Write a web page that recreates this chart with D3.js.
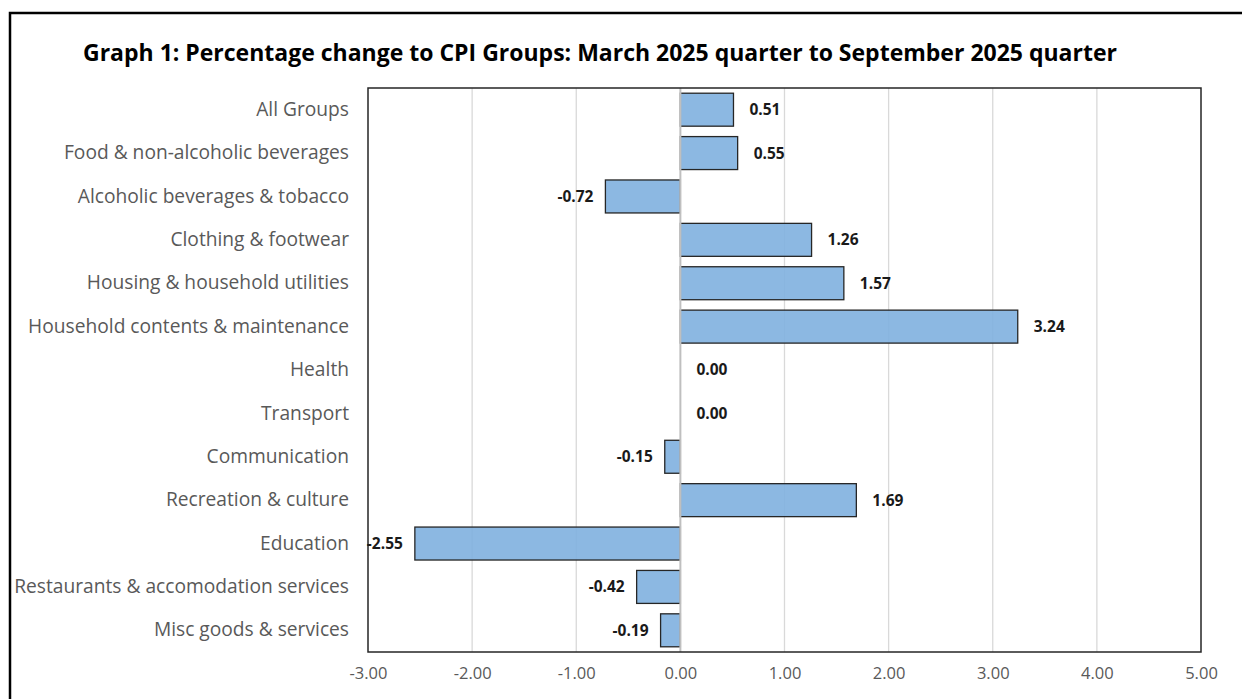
<!DOCTYPE html>
<html>
<head>
<meta charset="utf-8">
<script src="https://cdn.jsdelivr.net/npm/d3@7"></script>
<style>
  body { margin: 0; background: #fff; }
  svg text { font-family: "Open Sans", "Noto Sans", sans-serif; }
</style>
</head>
<body>
<div id="chart"></div>
<script>

// CPI groups, top to bottom
var categories = [
    "All Groups",
    "Food & non-alcoholic beverages",
    "Alcoholic beverages & tobacco",
    "Clothing & footwear",
    "Housing & household utilities",
    "Household contents & maintenance",
    "Health",
    "Transport",
    "Communication",
    "Recreation & culture",
    "Education",
    "Restaurants & accomodation services",
    "Misc goods & services"
];

// percentage change, March 2025 qtr to September 2025 qtr
var changes = [0.51, 0.55, -0.72, 1.26, 1.57, 3.24, 0.00, 0.00, -0.15, 1.69, -2.55, -0.42, -0.19];

var xTicks = [-3, -2, -1, 0, 1, 2, 3, 4, 5];

var title = "Graph 1: Percentage change to CPI Groups: March 2025 quarter to September 2025 quarter";

var data = categories.map(function(c, i) { return {name: c, value: changes[i]}; });

var width = 1242, height = 699;
var margin = {top: 88, right: 41, bottom: 47, left: 368};
var innerW = width - margin.left - margin.right,
    innerH = height - margin.top - margin.bottom;

var svg = d3.select("#chart").append("svg")
    .attr("width", width)
    .attr("height", height);

// outer frame (runs off the right and bottom of the picture)
svg.append("rect")
    .attr("x", 10).attr("y", 13)
    .attr("width", 1260).attr("height", 720)
    .attr("fill", "none")
    .attr("stroke", "#000")
    .attr("stroke-width", 2.5);

// title, sized to span the same width as the original
var titleText = svg.append("text")
    .attr("x", 83).attr("y", 61)
    .attr("font-weight", "bold")
    .attr("fill", "#000")
    .attr("font-size", 18)
    .text(title);
var tw = titleText.node().getComputedTextLength();
titleText.attr("font-size", 18 * 1034 / tw);

var g = svg.append("g")
    .attr("transform", "translate(" + margin.left + "," + margin.top + ")");

// scales
var x = d3.scaleLinear()
    .domain([-3, 5])
    .range([0, innerW]);

var y = d3.scaleBand()
    .domain(categories)
    .range([0, innerH])
    .paddingInner(0.24)
    .paddingOuter(0.12);

// vertical gridlines
g.selectAll(".grid")
    .data(xTicks.filter(function(d) { return d !== 0 && d !== -3 && d !== 5; }))
  .enter().append("line")
    .attr("class", "grid")
    .attr("x1", function(d) { return x(d); })
    .attr("x2", function(d) { return x(d); })
    .attr("y1", 0).attr("y2", innerH)
    .attr("stroke", "#d9d9d9")
    .attr("stroke-width", 1.3);

// bars
g.selectAll(".bar")
    .data(data.filter(function(d) { return d.value !== 0; }))
  .enter().append("rect")
    .attr("class", "bar")
    .attr("x", function(d) { return x(Math.min(0, d.value)); })
    .attr("y", function(d) { return y(d.name); })
    .attr("width", function(d) { return Math.abs(x(d.value) - x(0)); })
    .attr("height", y.bandwidth())
    .attr("fill", "#7fb0df")
    .attr("fill-opacity", 0.9)
    .attr("stroke", "#262626")
    .attr("stroke-width", 1.3);

// zero line
g.append("line")
    .attr("x1", x(0)).attr("x2", x(0))
    .attr("y1", 0).attr("y2", innerH)
    .attr("stroke", "#bfbfbf")
    .attr("stroke-width", 2);

// plot frame
g.append("rect")
    .attr("x", 0).attr("y", 0)
    .attr("width", innerW).attr("height", innerH)
    .attr("fill", "none")
    .attr("stroke", "#262626")
    .attr("stroke-width", 1.5);

// value labels
g.selectAll(".val")
    .data(data)
  .enter().append("text")
    .attr("class", "val")
    .attr("x", function(d) { return d.value >= 0 ? x(d.value) + 16 : x(d.value) - 12; })
    .attr("y", function(d) { return y(d.name) + y.bandwidth() / 2; })
    .attr("dy", "0.35em")
    .attr("text-anchor", function(d) { return d.value >= 0 ? "start" : "end"; })
    .attr("font-size", 15.5)
    .attr("font-weight", "bold")
    .attr("fill", "#1a1a1a")
    .text(function(d) { return d.value.toFixed(2); });

// category axis
var yAxis = d3.axisLeft(y).tickSize(0).tickPadding(19);
var yG = g.append("g").call(yAxis);
yG.select(".domain").remove();
yG.selectAll("text")
    .attr("font-size", 15)
    .attr("fill", "#595959");
// fit the longest label to the original width
var longest = d3.max(yG.selectAll("text").nodes(), function(n) { return n.getComputedTextLength(); });
yG.selectAll("text").attr("font-size", 15 * 335 / longest);

// value axis
var xAxis = d3.axisBottom(x)
    .tickValues(xTicks)
    .tickSize(0)
    .tickPadding(15)
    .tickFormat(function(d) { return d.toFixed(2); });
var xG = g.append("g")
    .attr("transform", "translate(0," + innerH + ")")
    .call(xAxis);
xG.select(".domain").remove();
xG.selectAll("text")
    .attr("font-size", 16.5)
    .attr("fill", "#595959");

</script>
</body>
</html>
